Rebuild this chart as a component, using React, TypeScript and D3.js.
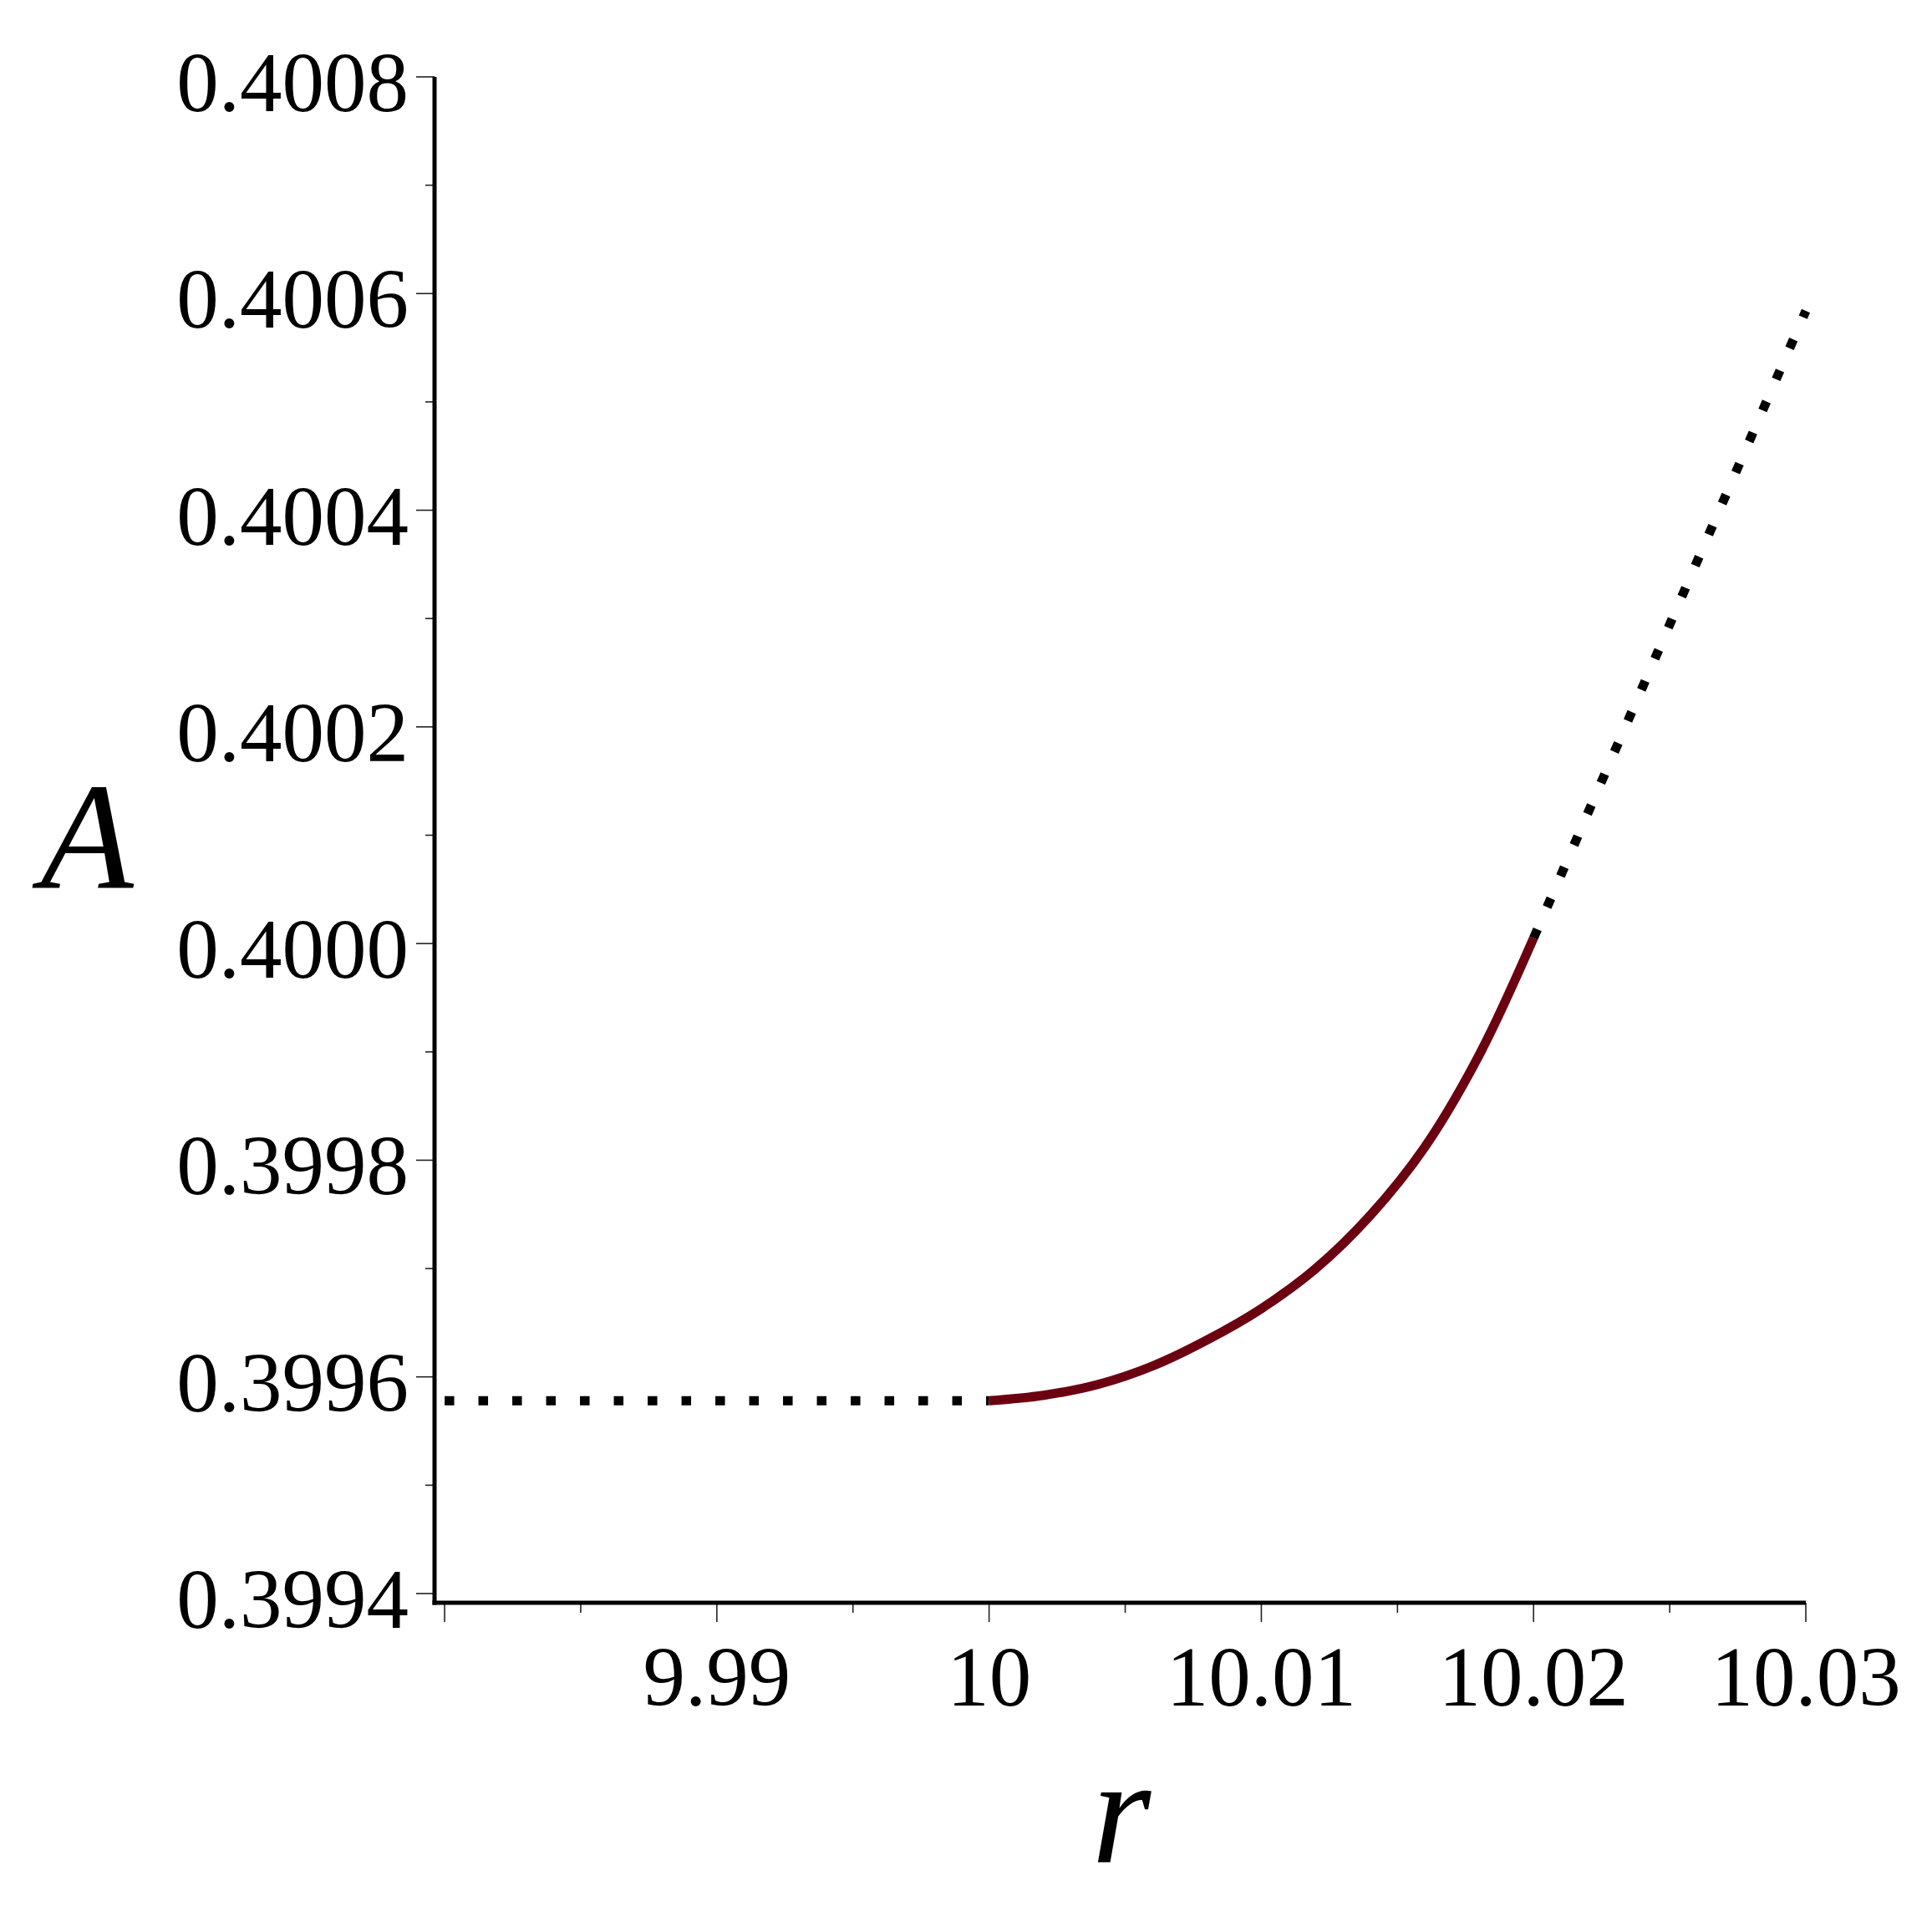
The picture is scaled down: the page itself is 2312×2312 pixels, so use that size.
import React from "react";
import * as d3 from "d3";

const W = 2312;
const H = 2312;

// solid curve A(r)
const solidR = [10.0, 10.002, 10.004, 10.006, 10.008, 10.01, 10.012, 10.014, 10.016, 10.018, 10.02];
const solidA = [
  0.399578, 0.399583, 0.399593, 0.39961, 0.399634, 0.399663, 0.3997, 0.399749, 0.399812, 0.399897,
  0.400005,
];

// dotted continuations
const dotLeftR = [9.98, 10.0];
const dotLeftA = [0.399578, 0.399578];
const dotRightR = [10.02, 10.03];
const dotRightA = [0.400005, 0.400584];

const xMajorTicks = [9.98, 9.99, 10.0, 10.01, 10.02, 10.03];
const xTickLabels = ["", "9.99", "10", "10.01", "10.02", "10.03"];
const xMinorTicks = [9.985, 9.995, 10.005, 10.015, 10.025];
const yMajorTicks = [0.3994, 0.3996, 0.3998, 0.4, 0.4002, 0.4004, 0.4006, 0.4008];
const yTickLabels = ["0.3994", "0.3996", "0.3998", "0.4000", "0.4002", "0.4004", "0.4006", "0.4008"];
const yMinorTicks = [0.3995, 0.3997, 0.3999, 0.4001, 0.4003, 0.4005, 0.4007];

const xTitle = "r";
const yTitle = "A";

export default function App() {
  const x = d3.scaleLinear().domain([9.97963, 10.03]).range([520, 2161]);
  const y = d3.scaleLinear().domain([0.3993915, 0.4008]).range([1918, 92]);

  const line = d3
    .line<[number, number]>()
    .x((d) => x(d[0]))
    .y((d) => y(d[1]));
  const smooth = d3
    .line<[number, number]>()
    .x((d) => x(d[0]))
    .y((d) => y(d[1]))
    .curve(d3.curveCatmullRom.alpha(0.5));

  const solidPts: [number, number][] = solidR.map((r, i) => [r, solidA[i]]);
  const leftPts: [number, number][] = dotLeftR.map((r, i) => [r, dotLeftA[i]]);
  const rightPts: [number, number][] = dotRightR.map((r, i) => [r, dotRightA[i]]);

  const font = "'Liberation Serif', 'Times New Roman', serif";
  const x0 = x.range()[0];
  const x1 = x.range()[1];
  const y0 = y.range()[0];
  const y1 = y.range()[1];

  return (
    <svg
      width={W}
      height={H}
      viewBox={`0 0 ${W} ${H}`}
      style={{ position: "absolute", left: 0, top: 0, background: "#fff" }}
    >
      <rect x={0} y={0} width={W} height={H} fill="#fff" />
      {/* ticks */}
      {yMajorTicks.map((t, i) => (
        <g key={"ym" + i}>
          <line x1={x0 - 22} x2={x0} y1={y(t)} y2={y(t)} stroke="#222" strokeWidth={1.6} />
          <text
            x={489}
            y={y(t) + 41}
            textAnchor="end"
            fontFamily={font}
            fontSize={101}
            fill="#000"
          >
            {yTickLabels[i]}
          </text>
        </g>
      ))}
      {yMinorTicks.map((t, i) => (
        <line key={"yn" + i} x1={x0 - 11} x2={x0} y1={y(t)} y2={y(t)} stroke="#222" strokeWidth={1.6} />
      ))}
      {xMajorTicks.map((t, i) => (
        <g key={"xm" + i}>
          <line x1={x(t)} x2={x(t)} y1={y0} y2={y0 + 23} stroke="#222" strokeWidth={1.6} />
          <text
            x={x(t)}
            y={2041}
            textAnchor="middle"
            fontFamily={font}
            fontSize={101}
            fill="#000"
          >
            {xTickLabels[i]}
          </text>
        </g>
      ))}
      {xMinorTicks.map((t, i) => (
        <line key={"xn" + i} x1={x(t)} x2={x(t)} y1={y0} y2={y0 + 12} stroke="#222" strokeWidth={1.6} />
      ))}
      {/* axes */}
      <line x1={x0} x2={x0} y1={y1} y2={y0 + 2.5} stroke="#000" strokeWidth={5} />
      <line x1={x0 - 2.5} x2={x1} y1={y0} y2={y0} stroke="#000" strokeWidth={5} />

      {/* data */}
      <path
        d={line(leftPts) || ""}
        fill="none"
        stroke="#000"
        strokeWidth={11}
        strokeDasharray="11.5 29"
        strokeLinecap="butt"
      />
      <path
        d={line(rightPts) || ""}
        fill="none"
        stroke="#000"
        strokeWidth={11}
        strokeDasharray="11.5 29"
        strokeLinecap="butt"
      />
      <path
        d={smooth(solidPts) || ""}
        fill="none"
        stroke="#6b0010"
        strokeWidth={11}
        strokeLinecap="butt"
      />

      {/* titles */}
      <text
        x={104}
        y={1063}
        textAnchor="middle"
        fontFamily={font}
        fontStyle="italic"
        fontSize={182}
        fill="#000"
      >
        {yTitle}
      </text>
      <text
        x={1342}
        y={2229}
        textAnchor="middle"
        fontFamily={font}
        fontStyle="italic"
        fontSize={182}
        fill="#000"
      >
        {xTitle}
      </text>
    </svg>
  );
}
